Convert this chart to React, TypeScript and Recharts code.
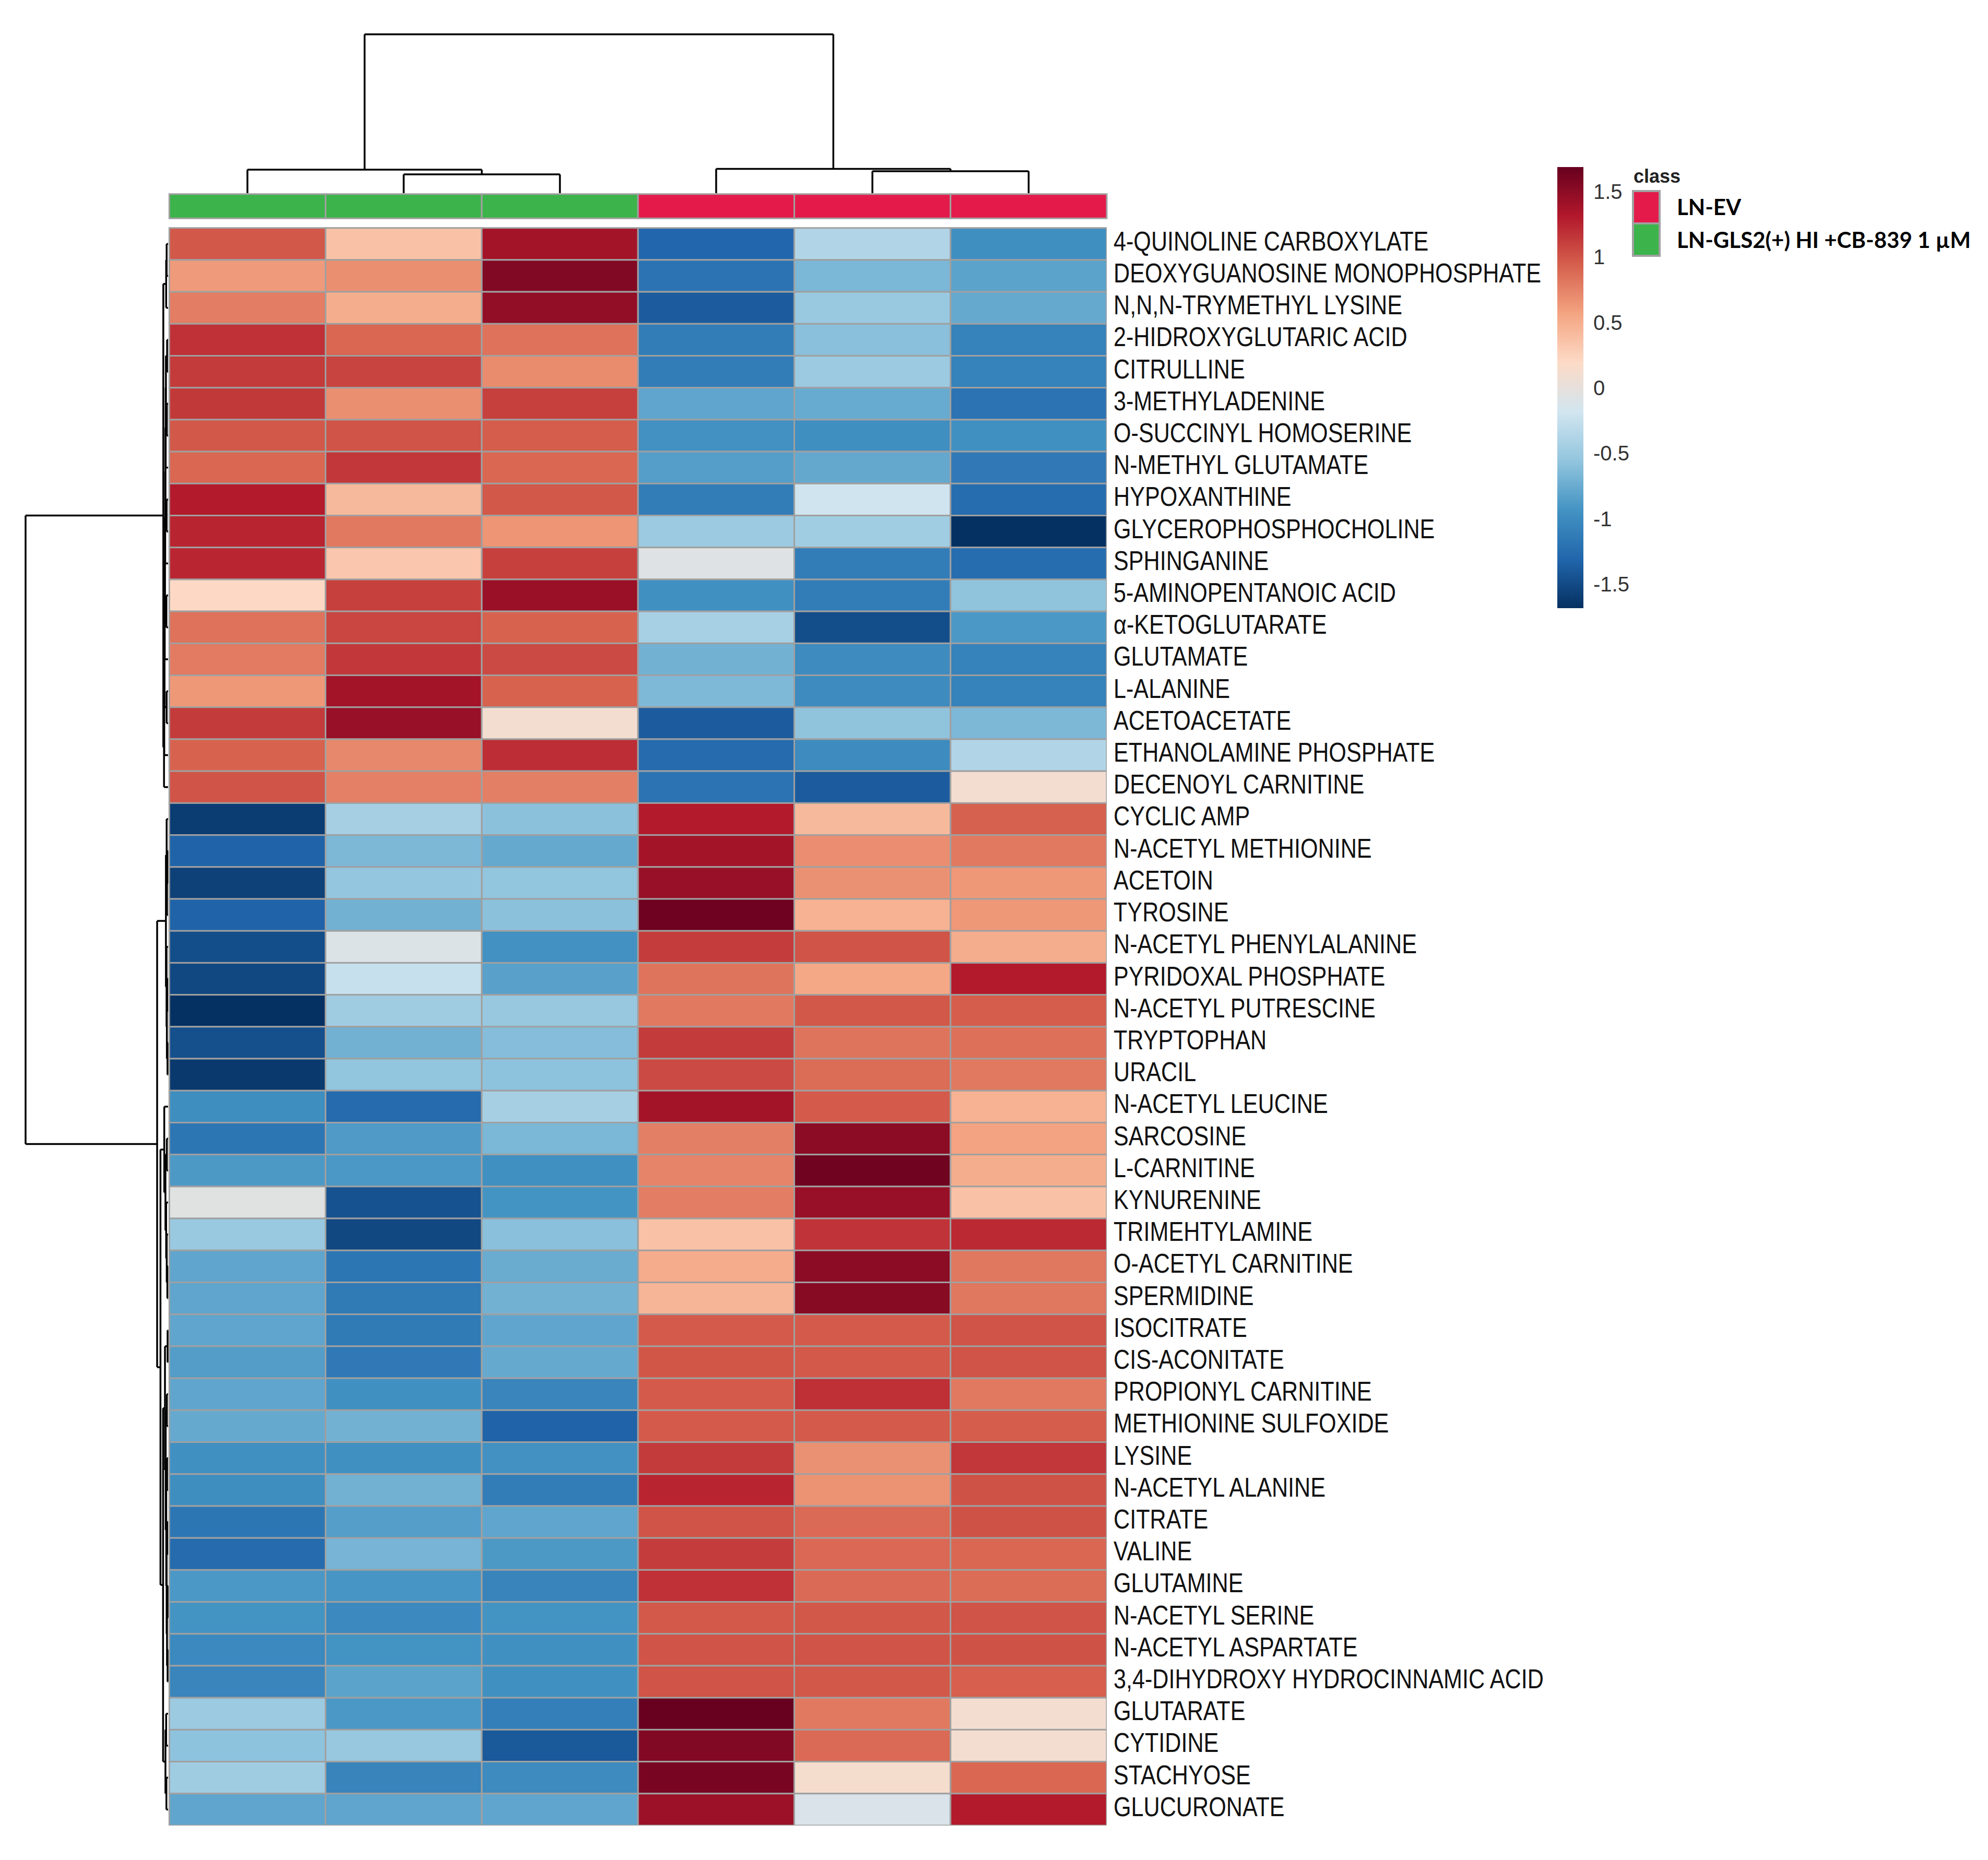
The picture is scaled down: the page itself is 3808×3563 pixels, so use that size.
import React from "react";
import {
  ScatterChart,
  Scatter,
  XAxis,
  YAxis,
  ReferenceLine,
  ReferenceArea,
} from "recharts";

// metabolites, top to bottom (row dendrogram order)
const metabolites = [
  "4-QUINOLINE CARBOXYLATE",
  "DEOXYGUANOSINE MONOPHOSPHATE",
  "N,N,N-TRYMETHYL LYSINE",
  "2-HIDROXYGLUTARIC ACID",
  "CITRULLINE",
  "3-METHYLADENINE",
  "O-SUCCINYL HOMOSERINE",
  "N-METHYL GLUTAMATE",
  "HYPOXANTHINE",
  "GLYCEROPHOSPHOCHOLINE",
  "SPHINGANINE",
  "5-AMINOPENTANOIC ACID",
  "α-KETOGLUTARATE",
  "GLUTAMATE",
  "L-ALANINE",
  "ACETOACETATE",
  "ETHANOLAMINE PHOSPHATE",
  "DECENOYL CARNITINE",
  "CYCLIC AMP",
  "N-ACETYL METHIONINE",
  "ACETOIN",
  "TYROSINE",
  "N-ACETYL PHENYLALANINE",
  "PYRIDOXAL PHOSPHATE",
  "N-ACETYL PUTRESCINE",
  "TRYPTOPHAN",
  "URACIL",
  "N-ACETYL LEUCINE",
  "SARCOSINE",
  "L-CARNITINE",
  "KYNURENINE",
  "TRIMEHTYLAMINE",
  "O-ACETYL CARNITINE",
  "SPERMIDINE",
  "ISOCITRATE",
  "CIS-ACONITATE",
  "PROPIONYL CARNITINE",
  "METHIONINE SULFOXIDE",
  "LYSINE",
  "N-ACETYL ALANINE",
  "CITRATE",
  "VALINE",
  "GLUTAMINE",
  "N-ACETYL SERINE",
  "N-ACETYL ASPARTATE",
  "3,4-DIHYDROXY HYDROCINNAMIC ACID",
  "GLUTARATE",
  "CYTIDINE",
  "STACHYOSE",
  "GLUCURONATE",
];

// autoscaled values per sample (column order as in the plot)
const gls1 = [
  0.98, 0.62, 0.78, 1.18, 1.13, 1.14, 0.98, 0.9, 1.3, 1.25,
  1.24, 0.2, 0.84, 0.79, 0.63, 1.13, 0.92, 1.0, -1.6, -1.33,
  -1.57, -1.33, -1.48, -1.52, -1.68, -1.47, -1.62, -0.98, -1.18, -0.89,
  -0.06, -0.52, -0.8, -0.8, -0.8, -0.86, -0.8, -0.77, -0.96, -0.98,
  -1.18, -1.27, -0.9, -0.93, -1.02, -1.05, -0.5, -0.58, -0.48, -0.8,
];
const gls2 = [
  0.36, 0.68, 0.5, 0.9, 1.08, 0.68, 1.0, 1.15, 0.42, 0.8,
  0.33, 1.1, 1.07, 1.15, 1.38, 1.44, 0.72, 0.76, -0.44, -0.66,
  -0.55, -0.71, -0.1, -0.25, -0.48, -0.71, -0.56, -1.27, -0.88, -0.9,
  -1.45, -1.52, -1.18, -1.14, -1.14, -1.15, -0.96, -0.71, -0.96, -0.71,
  -0.85, -0.69, -0.92, -1.02, -0.94, -0.82, -0.9, -0.53, -1.06, -0.8,
];
const gls3 = [
  1.38, 1.55, 1.47, 0.84, 0.7, 1.1, 0.95, 0.9, 0.98, 0.65,
  1.1, 1.43, 0.92, 1.05, 0.92, 0.1, 1.2, 0.77, -0.59, -0.77,
  -0.56, -0.59, -0.95, -0.83, -0.53, -0.62, -0.58, -0.44, -0.67, -0.96,
  -0.93, -0.6, -0.75, -0.71, -0.8, -0.77, -1.05, -1.33, -0.95, -1.12,
  -0.8, -0.89, -1.06, -0.94, -0.96, -0.96, -1.1, -1.4, -1.0, -0.8,
];
const ev1 = [
  -1.3, -1.2, -1.38, -1.12, -1.12, -0.8, -0.95, -0.85, -1.12, -0.5,
  -0.08, -0.96, -0.43, -0.71, -0.65, -1.38, -1.27, -1.2, 1.3, 1.38,
  1.44, 1.65, 1.12, 0.83, 0.8, 1.13, 1.05, 1.38, 0.77, 0.74,
  0.78, 0.36, 0.51, 0.45, 0.96, 0.99, 0.96, 0.96, 1.13, 1.25,
  1.0, 1.12, 1.18, 0.97, 1.0, 1.0, 1.68, 1.55, 1.6, 1.42,
];
const ev2 = [
  -0.38, -0.67, -0.52, -0.6, -0.5, -0.76, -0.97, -0.78, -0.2, -0.47,
  -1.12, -1.12, -1.48, -1.0, -1.0, -0.57, -1.0, -1.38, 0.42, 0.69,
  0.67, 0.47, 1.0, 0.54, 0.98, 0.83, 0.87, 0.96, 1.5, 1.64,
  1.44, 1.17, 1.5, 1.52, 0.96, 0.97, 1.19, 0.96, 0.67, 0.66,
  0.88, 0.89, 0.88, 0.98, 1.0, 0.98, 0.8, 0.88, 0.12, -0.12,
];
const ev3 = [
  -0.97, -0.82, -0.77, -1.08, -1.08, -1.2, -0.96, -1.15, -1.25, -1.68,
  -1.25, -0.57, -0.9, -1.08, -1.08, -0.66, -0.38, 0.1, 0.93, 0.8,
  0.63, 0.63, 0.5, 1.3, 0.95, 0.85, 0.8, 0.47, 0.57, 0.5,
  0.36, 1.22, 0.81, 0.81, 1.0, 1.0, 0.8, 0.95, 1.15, 1.01,
  1.01, 0.9, 0.87, 1.0, 1.01, 0.94, 0.1, 0.1, 0.9, 1.3,
];

const sampleValues = [gls1, gls2, gls3, ev1, ev2, ev3];
const sampleClass = [
  "LN-GLS2(+) HI +CB-839 1 µM",
  "LN-GLS2(+) HI +CB-839 1 µM",
  "LN-GLS2(+) HI +CB-839 1 µM",
  "LN-EV",
  "LN-EV",
  "LN-EV",
];
const classNames = ["LN-EV", "LN-GLS2(+) HI +CB-839 1 µM"];
const classColors: Record<string, string> = {
  "LN-EV": "#E41A4B",
  "LN-GLS2(+) HI +CB-839 1 µM": "#3CB44B",
};

// hclust-style merges: [left, right, height]; negative = leaf (1-based)
const colMerge = [
  [-2, -3, 1.18],
  [-1, 1, 1.48],
  [-5, -6, 1.38],
  [-4, 3, 1.53],
  [2, 4, 10],
];
const rowMerge = [
  [-1, -2, 0.3],
  [1, -3, 0.4],
  [-4, -5, 0.2],
  [-6, -7, 0.25],
  [3, 4, 0.45],
  [5, -8, 0.5],
  [-9, -10, 0.3],
  [6, 7, 0.55],
  [8, -11, 0.6],
  [-12, -13, 0.35],
  [9, 10, 0.65],
  [11, -14, 0.7],
  [-15, -16, 0.3],
  [12, 13, 0.75],
  [14, -17, 0.8],
  [15, -18, 0.85],
  [2, 16, 1.0],
  [-20, -21, 0.15],
  [18, -22, 0.22],
  [-19, 19, 0.3],
  [-24, -25, 0.18],
  [-26, -27, 0.12],
  [21, 22, 0.25],
  [-23, 23, 0.32],
  [20, 24, 0.45],
  [-29, -30, 0.25],
  [-33, -34, 0.15],
  [-32, 27, 0.28],
  [-31, 28, 0.4],
  [26, 29, 0.55],
  [-28, 30, 0.8],
  [-35, -36, 0.1],
  [-37, -38, 0.25],
  [-39, -40, 0.2],
  [-41, -42, 0.18],
  [-43, -44, 0.1],
  [-45, -46, 0.1],
  [36, 37, 0.22],
  [35, 38, 0.3],
  [34, 39, 0.38],
  [33, 40, 0.5],
  [32, 41, 0.65],
  [-47, -48, 0.4],
  [-49, -50, 0.35],
  [43, 44, 0.55],
  [42, 45, 1.05],
  [31, 46, 1.6],
  [25, 47, 2.3],
  [17, 48, 30],
];

const colorTicks = [1.5, 1, 0.5, 0, -0.5, -1, -1.5];

// ---- layout ----
const CHART_W = 3200;
const CHART_H = 3563;
const MARGIN = { top: 48, right: 0, bottom: 66, left: 40 };
const AXIS_W = 1080;
const X_DOMAIN: [number, number] = [-0.95, 6];
const Y_DOMAIN: [number, number] = [-6.35, 50];
const PLOT_W = CHART_W - MARGIN.left - MARGIN.right - AXIS_W;
const PLOT_H = CHART_H - MARGIN.top - MARGIN.bottom;
const CELL_W = PLOT_W / (X_DOMAIN[1] - X_DOMAIN[0]);
const CELL_H = PLOT_H / (Y_DOMAIN[1] - Y_DOMAIN[0]);

const ROW_LEAF_X = -0.008;
const ROW_K = 0.0304;
const COL_LEAF_Y = -1.09;
const COL_K = 0.497;

const ZMAX = 1.685;
const palette = [
  "#053061", "#2166AC", "#4393C3", "#92C5DE", "#D1E5F0",
  "#FDDBC7", "#F4A582", "#D6604D", "#B2182B", "#67001F",
];

function hex(c: string) {
  return [1, 3, 5].map((i) => parseInt(c.slice(i, i + 2), 16));
}

function heatColor(v: number) {
  const c = Math.max(-ZMAX, Math.min(ZMAX, v));
  const t = ((c + ZMAX) / (2 * ZMAX)) * (palette.length - 1);
  const i = Math.min(palette.length - 2, Math.floor(t));
  const f = t - i;
  const a = hex(palette[i]);
  const b = hex(palette[i + 1]);
  const m = a.map((x, k) => Math.round(x + (b[k] - x) * f));
  return `rgb(${m[0]},${m[1]},${m[2]})`;
}

type Link = { p1: number; h1: number; p2: number; h2: number; h: number };

function buildLinks(merge: number[][]): Link[] {
  const pos: number[] = [];
  const hgt: number[] = [];
  const get = (id: number) =>
    id < 0 ? { p: -id - 0.5, h: 0 } : { p: pos[id - 1], h: hgt[id - 1] };
  return merge.map(([a, b, h], i) => {
    const A = get(a);
    const B = get(b);
    pos[i] = (A.p + B.p) / 2;
    hgt[i] = h;
    return { p1: A.p, h1: A.h, p2: B.p, h2: B.h, h };
  });
}

const cells = sampleValues.flatMap((vals, c) =>
  vals.map((v, r) => ({ x: c + 0.5, y: r + 0.5, v }))
);

const rowTicks = metabolites.map((_, i) => i + 0.5);

const CellShape = (props: any) => {
  const { cx, cy, payload } = props;
  return (
    <rect
      x={cx - CELL_W / 2}
      y={cy - CELL_H / 2}
      width={CELL_W}
      height={CELL_H}
      fill={heatColor(payload.v)}
      stroke="#a0a0a0"
      strokeWidth={3}
    />
  );
};

// narrow label look: Liberation Sans squeezed horizontally
const RowTick = (props: any) => {
  const { x, y, payload } = props;
  return (
    <text
      transform={`translate(${x},${y}) scale(0.83,1)`}
      dy="0.24em"
      textAnchor="start"
      fontSize={52}
      fontFamily="'Liberation Sans', Arial, sans-serif"
      fill="#111"
    >
      {metabolites[Math.floor(payload.value)]}
    </text>
  );
};

function segments() {
  const out: { a: { x: number; y: number }; b: { x: number; y: number } }[] = [];
  buildLinks(rowMerge).forEach((l) => {
    const X = (h: number) => ROW_LEAF_X - h * ROW_K;
    out.push({ a: { x: X(l.h1), y: l.p1 }, b: { x: X(l.h), y: l.p1 } });
    out.push({ a: { x: X(l.h), y: l.p1 }, b: { x: X(l.h), y: l.p2 } });
    out.push({ a: { x: X(l.h2), y: l.p2 }, b: { x: X(l.h), y: l.p2 } });
  });
  buildLinks(colMerge).forEach((l) => {
    const Y = (h: number) => COL_LEAF_Y - h * COL_K;
    out.push({ a: { x: l.p1, y: Y(l.h1) }, b: { x: l.p1, y: Y(l.h) } });
    out.push({ a: { x: l.p1, y: Y(l.h) }, b: { x: l.p2, y: Y(l.h) } });
    out.push({ a: { x: l.p2, y: Y(l.h2) }, b: { x: l.p2, y: Y(l.h) } });
  });
  return out;
}

function Legend() {
  // colour bar spans -ZMAX..ZMAX
  const barTop = 40;
  const barBottom = 885;
  const yOf = (v: number) =>
    barTop + ((ZMAX - v) / (2 * ZMAX)) * (barBottom - barTop);
  return (
    <svg
      width={848}
      height={920}
      style={{ position: "absolute", left: 2960, top: 280 }}
    >
      <defs>
        <linearGradient id="heatGrad" x1="0" y1="1" x2="0" y2="0">
          {palette.map((c, i) => (
            <stop key={c} offset={`${(i / (palette.length - 1)) * 100}%`} stopColor={c} />
          ))}
        </linearGradient>
      </defs>
      <rect x={23} y={barTop} width={50} height={barBottom - barTop} fill="url(#heatGrad)" />
      {colorTicks.map((t) => (
        <text
          key={t}
          x={92}
          y={yOf(t)}
          dy="0.36em"
          fontSize={40}
          fontFamily="'Liberation Sans', Arial, sans-serif"
          fill="#333"
        >
          {t}
        </text>
      ))}
      <text
        x={169}
        y={70}
        fontSize={36}
        fontWeight="bold"
        fontFamily="'Liberation Sans', Arial, sans-serif"
        fill="#222"
      >
        class
      </text>
      <rect x={166} y={84} width={55} height={128} fill="#a0a0a0" />
      {classNames.map((n, i) => (
        <g key={n}>
          <rect x={170} y={88 + i * 62} width={47} height={58} fill={classColors[n]} />
          <text
            x={252}
            y={132 + i * 63}
            fontSize={42}
            fontWeight="bold"
            fontFamily="Lato, 'Noto Sans', sans-serif"
            fill="#000"
          >
            {n}
          </text>
        </g>
      ))}
    </svg>
  );
}

export default function App() {
  return (
    <div
      style={{
        position: "absolute",
        left: 0,
        top: 0,
        width: 3808,
        height: 3563,
        background: "#fff",
      }}
    >
      <ScatterChart
        width={CHART_W}
        height={CHART_H}
        margin={MARGIN}
        style={{ position: "absolute", left: 0, top: 0 }}
      >
        <XAxis type="number" dataKey="x" domain={X_DOMAIN} hide allowDataOverflow />
        <YAxis
          type="number"
          dataKey="y"
          orientation="right"
          reversed
          domain={Y_DOMAIN}
          allowDataOverflow
          ticks={rowTicks}
          interval={0}
          width={AXIS_W}
          axisLine={false}
          tickLine={false}
          tickSize={0}
          tickMargin={13}
          tick={<RowTick />}
        />
        {sampleClass.map((cls, c) => (
          <ReferenceArea
            key={`cls${c}`}
            x1={c}
            x2={c + 1}
            y1={-1.06}
            y2={-0.3}
            fill={classColors[cls]}
            fillOpacity={1}
            stroke="#a0a0a0"
            strokeWidth={3}
            ifOverflow="visible"
          />
        ))}
        <Scatter data={cells} shape={CellShape} isAnimationActive={false} />
        {segments().map((s, i) => (
          <ReferenceLine
            key={`seg${i}`}
            segment={[s.a, s.b]}
            stroke="#000"
            strokeWidth={3.5}
            ifOverflow="visible"
          />
        ))}
      </ScatterChart>
      <Legend />
    </div>
  );
}
